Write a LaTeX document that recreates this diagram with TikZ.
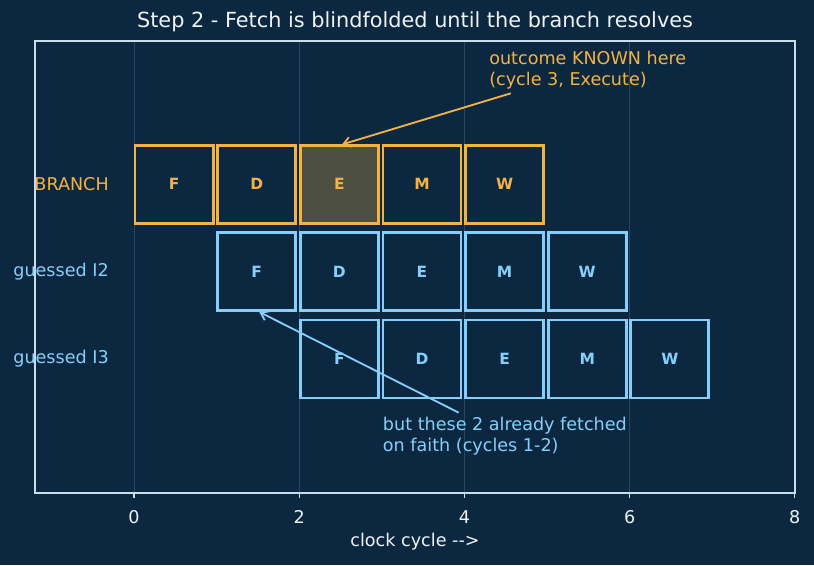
\documentclass[tikz,border=0pt]{standalone}
\usepackage{fontspec}
\setmainfont{DejaVu Sans}
\usetikzlibrary{matrix, arrows.meta}

\definecolor{bgnavy}{HTML}{0C2840}
\definecolor{branchorange}{HTML}{F5B242}
\definecolor{guessblue}{HTML}{86CFFA}
\definecolor{spinegray}{HTML}{C8DCEB}
\definecolor{gridnavy}{HTML}{2B4560}
\definecolor{inkwhite}{HTML}{EEF3F8}

\begin{document}
\begin{tikzpicture}
    [x=0.025cm, y=-0.025cm,
     every node/.style={font=\fontsize{12.5}{15}\selectfont},
     stage/.style={draw, line width=2pt, minimum width=1.95cm, minimum height=1.95cm,
                   inner sep=0pt, outer sep=0pt, anchor=center,
                   font=\fontsize{11}{13}\selectfont\bfseries},
     br/.style={stage, draw=branchorange, text=branchorange},
     gs/.style={stage, draw=guessblue, text=guessblue},
     resolved/.style={br, fill=branchorange!28!bgnavy},
     rowlabel/.style={anchor=east, inner sep=0pt},
     note/.style={align=left, anchor=west, inner sep=0.1cm},
     pointer/.style={-{Straight Barb[length=5pt, width=7pt]}, line width=1.3pt, shorten >=2pt}]

    \path[use as bounding box, fill=bgnavy] (0,0) rectangle (814,565);

    % grid and frame
    \foreach \gx in {0,2,4,6}
      \draw[gridnavy, line width=0.6pt] (134+82.6*\gx,41) -- (134+82.6*\gx,493);
    \draw[spinegray, line width=1.1pt] (35,41) rectangle (795,493);

    \matrix (m) [matrix of nodes, matrix anchor=north west, inner sep=0pt,
                 column sep=0.0447cm, row sep=0.162cm] at (133.4,143.6)
    {
      |[br]| F & |[br]| D & |[resolved]| E & |[br]| M & |[br]| W & & \\
      & |[gs]| F & |[gs]| D & |[gs]| E & |[gs]| M & |[gs]| W & \\
      & & |[gs]| F & |[gs]| D & |[gs]| E & |[gs]| M & |[gs]| W \\
    };

    \node[rowlabel, text=branchorange] (lbl-br) at (109,0 |- m-1-1) {BRANCH};
    \node[rowlabel, text=guessblue] (lbl-i2) at (109,0 |- m-2-2) {guessed I2};
    \node[rowlabel, text=guessblue] (lbl-i3) at (109,0 |- m-3-3) {guessed I3};

    % x axis
    \foreach \t in {0,2,4,6,8} {
      \draw[spinegray, line width=0.8pt] (134+82.6*\t,493) -- (134+82.6*\t,498);
      \node[text=inkwhite] (tick-\t) at (134+82.6*\t,517) {\t};
    }
    \node[text=inkwhite] (xlabel) at (415,542) {clock cycle -{}->};
    \node[text=inkwhite, font=\fontsize{14.8}{17}\selectfont] (title) at (415,22)
      {Step 2 - Fetch is blindfolded until the branch resolves};

    % annotations
    \node[note, text=branchorange] (known) at (485,70) {outcome KNOWN here\\(cycle 3, Execute)};
    \draw[pointer, branchorange] (known) -- (m-1-3.north);
    \node[note, text=guessblue] (faith) at (378.7,436) {but these 2 already fetched\\on faith (cycles 1-2)};
    \draw[pointer, guessblue] (faith) -- (m-2-2.south);
\end{tikzpicture}
\end{document}
